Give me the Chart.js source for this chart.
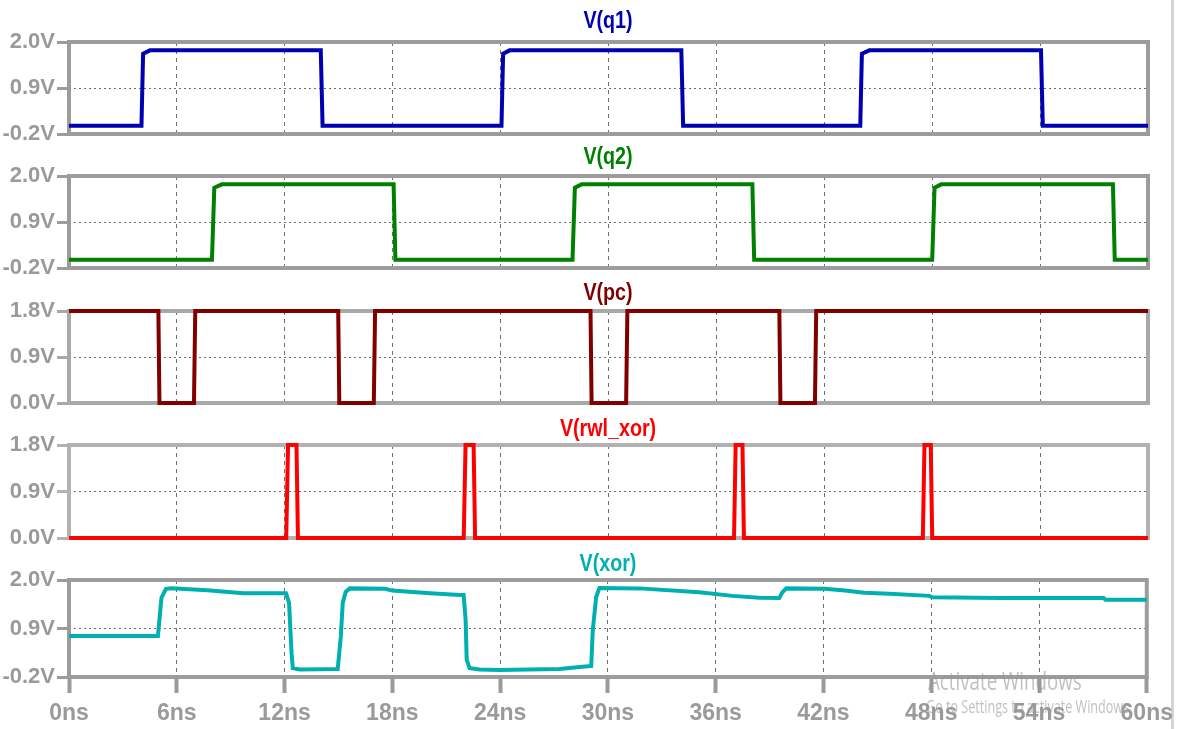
<!DOCTYPE html>
<html>
<head>
<meta charset="utf-8">
<script src="https://cdn.jsdelivr.net/npm/chart.js@4.4.1/dist/chart.umd.min.js"></script>
<style>
body { margin: 0; background: #fff; width: 1180px; height: 729px; position: relative; overflow: hidden;
       font-family: "Liberation Sans", Arial, sans-serif; }
canvas { position: absolute; left: 0; }
.title { position: absolute; left: 0; width: 1216px; height: 30px; line-height: 30px; text-align: center;
         font-weight: bold; font-size: 24px; z-index: 2; transform: scaleX(0.82); transform-origin: 608px 0; }
.edge { position: absolute; left: 1171px; top: 0; width: 3px; height: 729px; background: #d4d4d4; }
.wm { position: absolute; color: rgba(150,150,150,0.6); font-family: "Open Sans", sans-serif; white-space: nowrap;
      transform-origin: left top; z-index: 3; }
</style>
</head>
<body>
<div class="edge"></div>
<div class="title" style="top:5px;color:#0000b0">V(q1)</div>
<div class="title" style="top:141px;color:#008000">V(q2)</div>
<div class="title" style="top:277px;color:#800000">V(pc)</div>
<div class="title" style="top:413px;color:#ff0000">V(rwl_xor)</div>
<div class="title" style="top:548px;color:#00b0b0">V(xor)</div>
<canvas id="c1" width="1180" height="132" style="top:22px"></canvas>
<canvas id="c2" width="1180" height="132" style="top:156px"></canvas>
<canvas id="c3" width="1180" height="132" style="top:291px"></canvas>
<canvas id="c4" width="1180" height="133" style="top:425px"></canvas>
<canvas id="c5" width="1180" height="169" style="top:560px"></canvas>
<div class="wm" style="left:928px;top:662px;font-size:26px;transform:scaleX(0.72)">Activate Windows</div>
<div class="wm" style="left:926px;top:694px;font-size:18px;transform:scaleX(0.7)">Go to Settings to activate Windows.</div>
<script>
// time in ns, voltage in V
const xTicks = [0, 6, 12, 18, 24, 30, 36, 42, 48, 54, 60];
const yTicksWide = [-0.2, 0.9, 2.0];
const yTicksLogic = [0.0, 0.9, 1.8];

const q1Time = [0, 4.03, 4.12, 4.5, 14.0, 14.1, 24.05, 24.14, 24.5, 34.05, 34.15, 44.0, 44.09, 44.5, 54.05, 54.15, 60];
const q1Volt = [0, 0, 1.72, 1.8, 1.8, 0, 0, 1.72, 1.8, 1.8, 0, 0, 1.72, 1.8, 1.8, 0, 0];

const q2Time = [0, 7.95, 8.08, 8.5, 18.05, 18.15, 28.0, 28.13, 28.5, 38.0, 38.1, 48.0, 48.13, 48.5, 58.05, 58.15, 60];
const q2Volt = [0, 0, 1.72, 1.8, 1.8, 0, 0, 1.72, 1.8, 1.8, 0, 0, 1.72, 1.8, 1.8, 0, 0];

const pcTime = [0, 4.97, 5.03, 6.95, 7.02, 14.97, 15.03, 16.95, 17.02, 29.0, 29.06, 30.98, 31.05, 39.5, 39.56, 41.48, 41.55, 60];
const pcVolt = [1.8, 1.8, 0, 0, 1.8, 1.8, 0, 0, 1.8, 1.8, 0, 0, 1.8, 1.8, 0, 0, 1.8, 1.8];

const rwlTime = [0, 12.08, 12.18, 12.65, 12.73, 21.95, 22.05, 22.5, 22.58, 36.98, 37.07, 37.45, 37.53, 47.48, 47.57, 47.92, 48.0, 60];
const rwlVolt = [0, 0, 1.8, 1.8, 0, 0, 1.8, 1.8, 0, 0, 1.8, 1.8, 0, 0, 1.8, 1.8, 0, 0];

const xorTime = [0, 4.95, 5.15, 5.4, 5.7, 7.7, 9.7, 12.08, 12.25, 12.39, 12.46, 12.85, 14.96, 15.13, 15.24, 15.4, 15.63,
                 17.6, 18.0, 20.1, 21.75, 21.97, 22.08, 22.14, 22.3, 22.86, 23.97, 25.6, 27.3, 28.59, 29.07, 29.16, 29.35,
                 29.53, 31.76, 35.1, 36.93, 38.43, 39.54, 39.71, 39.93, 42.05, 43.2, 44.27, 45.66, 47.9, 48.05, 51.8, 57.6, 57.7, 60];
const xorVolt = [0.73, 0.73, 1.6, 1.8, 1.81, 1.77, 1.70, 1.70, 1.48, 0.34, 0.0, -0.03, -0.02, 0.71, 1.48, 1.73, 1.81,
                 1.80, 1.76, 1.70, 1.66, 1.66, 1.09, 0.19, 0.0, -0.03, -0.04, -0.03, -0.02, 0.03, 0.05, 0.87, 1.62,
                 1.82, 1.81, 1.72, 1.64, 1.60, 1.59, 1.72, 1.81, 1.80, 1.76, 1.71, 1.69, 1.64, 1.61, 1.59, 1.59, 1.55, 1.55];

Chart.defaults.font.family = '"Liberation Sans", Arial, sans-serif';
Chart.defaults.font.weight = 'bold';

// grey box around each pane, drawn under the trace
const framePlugin = {
    id: 'frame',
    beforeDatasetsDraw(chart, args, opts) {
        const a = chart.chartArea;
        const ctx = chart.ctx;
        ctx.save();
        ctx.strokeStyle = opts.color;
        ctx.lineWidth = 4;
        ctx.strokeRect(a.left, a.top, a.right - a.left, a.bottom - a.top);
        ctx.restore();
    }
};

function makePane(id, times, volts, color, yTicks, frameColor, last) {
    const ctx = document.getElementById(id).getContext('2d');
    const points = times.map((t, i) => ({ x: t, y: volts[i] }));
    return new Chart(ctx, {
        type: 'line',
        data: {
            datasets: [{
                data: points,
                borderColor: color,
                borderWidth: 4,
                pointRadius: 0,
                tension: 0,
                fill: false,
                clip: false
            }]
        },
        plugins: [framePlugin],
        options: {
            responsive: false,
            animation: false,
            layout: { padding: { left: 0, right: 32, top: 20, bottom: last ? 0 : 20 } },
            plugins: {
                legend: { display: false },
                tooltip: { enabled: false },
                frame: { color: frameColor }
            },
            scales: {
                x: {
                    type: 'linear',
                    min: 0,
                    max: 60,
                    afterBuildTicks: s => { s.ticks = xTicks.map(v => ({ value: v })); },
                    afterFit: s => { s.height = last ? 52 : 0; },
                    border: { display: false, dash: [4, 4] },
                    grid: {
                        color: '#6e6e6e',
                        lineWidth: 1,
                        drawTicks: last,
                        tickLength: 16,
                        tickWidth: 4,
                        tickColor: '#9a9a9a'
                    },
                    ticks: {
                        display: last,
                        autoSkip: false,
                        maxRotation: 0,
                        padding: 7,
                        color: '#9a9a9a',
                        font: { size: 23, weight: 'bold' },
                        callback: v => v + 'ns'
                    }
                },
                y: {
                    min: yTicks[0],
                    max: yTicks[2],
                    afterBuildTicks: s => { s.ticks = yTicks.map(v => ({ value: v })); },
                    afterFit: s => { s.width = 69; },
                    border: { display: false, dash: [2, 3] },
                    grid: {
                        color: '#6e6e6e',
                        lineWidth: 1,
                        tickLength: 12,
                        tickWidth: 3,
                        tickColor: frameColor
                    },
                    ticks: {
                        padding: 2,
                        color: '#9a9a9a',
                        font: { size: 22, weight: 'bold' },
                        callback: v => v.toFixed(1) + 'V'
                    }
                }
            }
        }
    });
}

makePane('c1', q1Time, q1Volt, '#0000b0', yTicksWide, '#9c9c9c', false);
makePane('c2', q2Time, q2Volt, '#008000', yTicksWide, '#9c9c9c', false);
makePane('c3', pcTime, pcVolt, '#800000', yTicksLogic, '#a8a8a8', false);
makePane('c4', rwlTime, rwlVolt, '#ff0000', yTicksLogic, '#b2b2b2', false);
makePane('c5', xorTime, xorVolt, '#00b0b0', yTicksWide, '#9c9c9c', true);
</script>
</body>
</html>
